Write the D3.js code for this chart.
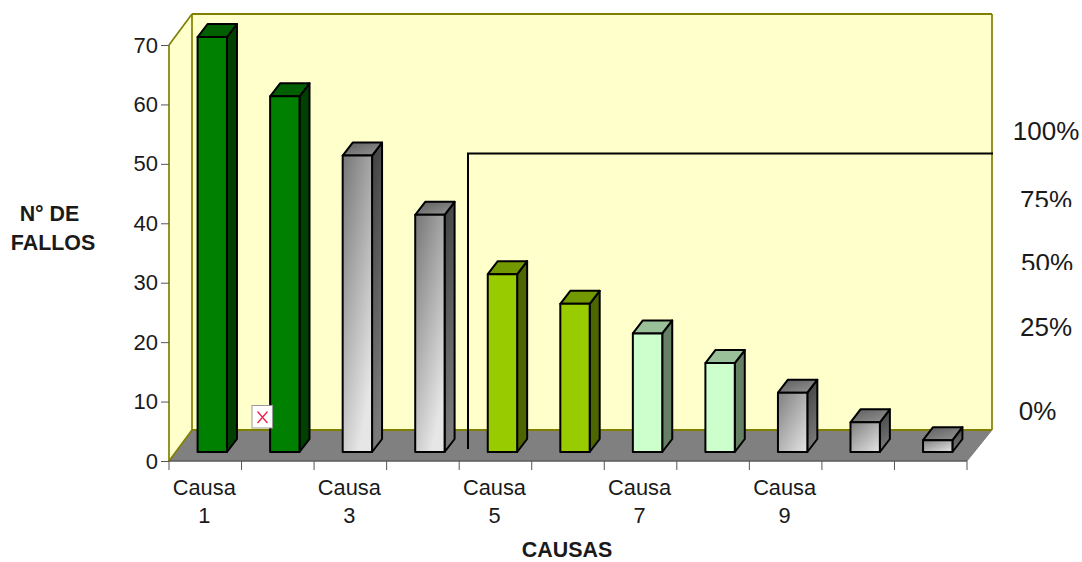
<!DOCTYPE html>
<html>
<head>
<meta charset="utf-8">
<script src="https://cdn.jsdelivr.net/npm/d3@7/dist/d3.min.js"></script>
<style>
html,body{margin:0;padding:0;background:#fff;}
svg{display:block;}
text{font-family:"Liberation Sans",Arial,sans-serif;fill:#1a1a1a;}
</style>
</head>
<body>
<svg id="chart" width="1082" height="562"></svg>
<script>
// Pareto data: number of failures per cause
const categories = ["Causa 1","Causa 2","Causa 3","Causa 4","Causa 5","Causa 6","Causa 7","Causa 8","Causa 9","Causa 10","Causa 11"];
const failures = [70,60,50,40,30,25,20,15,10,5,2];
const barStyles = ["green","green","steel","steel","lime","lime","mint","mint","steel","steel","steel"];
const yTicks = [0,10,20,30,40,50,60,70];
const labelledCauses = ["Causa 1","Causa 3","Causa 5","Causa 7","Causa 9"];
const percentTicks = [100,75,50,25,0];
// Cumulative step line: boundary index between causes, and percentage reached
const stepBoundary = [4,4,11];
const stepPercent = [0,100,100];

const svg = d3.select("#chart");
const W = {x0:169, x1:967, y0:461, y1:45, dx:24, dy:-31};
const x = d3.scaleBand().domain(categories).range([W.x0,W.x1]);
const y = d3.scaleLinear().domain([0,70]).range([W.y0,W.y1]);

const defs = svg.append("defs");
function gradient(id,stops,x2,y2){
  const g = defs.append("linearGradient").attr("id",id)
    .attr("x1",0).attr("y1",0).attr("x2",x2).attr("y2",y2);
  stops.forEach((c,i)=>g.append("stop").attr("offset",i/(stops.length-1)).attr("stop-color",c));
}
gradient("steelFront",["#767676","#e6e6e6"],0.55,1);
gradient("steelFrontWide",["#808080","#e0e0e0"],0.9,1);
gradient("steelSide",["#404040","#7a7a7a"],0.2,1);
gradient("steelTop",["#5c5c5c","#969696"],1,1);

const palette = {
  green:{front:"#008000",side:"#004000",top:"#006000"},
  lime:{front:"#99cc00",side:"#4d6600",top:"#739900"},
  mint:{front:"#ccffcc",side:"#668066",top:"#99c099"},
  steel:{front:"url(#steelFront)",side:"url(#steelSide)",top:"url(#steelTop)"}
};

// Chart box: back wall, left wall, floor
const pts = a => a.map(p=>p.join(",")).join(" ");
const bx0=W.x0+W.dx-1, bx1=W.x1+W.dx+1, by1=W.y1+W.dy, by0=W.y0+W.dy;
svg.append("polygon").attr("points",pts([[bx0,by1],[bx1,by1],[bx1,by0],[bx0,by0]])).attr("fill","#ffffcc");
svg.append("polygon").attr("points",pts([[W.x0,W.y1],[bx0,by1],[bx0,by0],[W.x0,W.y0]])).attr("fill","#ffffcc");
svg.append("polygon").attr("points",pts([[W.x0,W.y0],[bx0,by0],[bx1,by0],[W.x1,W.y0]])).attr("fill","#808080");
const olive = "#808000";
const edge = (a,b,w)=>svg.append("line").attr("x1",a[0]).attr("y1",a[1]).attr("x2",b[0]).attr("y2",b[1])
  .attr("stroke",olive).attr("stroke-width",w);
edge([W.x0,W.y1],[W.x0,W.y0],1.7);
edge([W.x0,W.y1],[bx0,by1],1.7);
edge([bx0,by1],[bx1,by1],1.8);
edge([bx0,by1],[bx0,by0],1.7);
edge([bx1,by1],[bx1,by0],1.7);
edge([bx0,by0],[bx1,by0],2);
edge([W.x0,W.y0],[bx0,by0],1.7);

// Right-hand floor edge
svg.append("line").attr("x1",bx1).attr("y1",by0).attr("x2",W.x1).attr("y2",W.y0)
  .attr("stroke","#808080").attr("stroke-width",1);

// Axes
const yAxis = svg.append("g").attr("transform",`translate(${W.x0},0)`)
  .call(d3.axisLeft(y).tickValues(yTicks).tickSize(8).tickPadding(3));
yAxis.select(".domain").remove();
yAxis.selectAll("line").attr("stroke","#555");
yAxis.selectAll("text").attr("font-size",22).attr("font-family",'"Liberation Sans",Arial,sans-serif');

const xAxis = svg.append("g").attr("transform",`translate(0,${W.y0})`)
  .call(d3.axisBottom(x).tickSize(0).tickFormat(""));
xAxis.select(".domain").attr("stroke","#5a5a5a").attr("stroke-width",1.5).attr("d",`M${W.x0},0H${W.x1}`);
const boundaries = d3.range(categories.length+1).map(i=>i===categories.length?x.range()[1]:x(categories[i]));
xAxis.selectAll(".bound").data(boundaries).enter().append("line").attr("class","bound")
  .attr("x1",d=>d).attr("x2",d=>d).attr("y1",0).attr("y2",9).attr("stroke","#555");

const causeLabels = svg.append("g").selectAll("text").data(labelledCauses).enter().append("text")
  .attr("text-anchor","middle").attr("font-size",21.8);
causeLabels.each(function(d){
  const [word,num] = d.split(" ");
  const cx = x(d)+x.bandwidth()/2-1;
  const t = d3.select(this);
  t.append("tspan").attr("x",cx).attr("y",495).text(word);
  t.append("tspan").attr("x",cx).attr("y",523).text(num);
});

// 3D bars
const barW = x.bandwidth()*0.405, depthX = 10, depthY = -13;
const barShift = 7, floorY = 452;
const barY = d3.scaleLinear().domain([0,70]).range([floorY,37]);
const bars = svg.append("g").selectAll("g").data(failures).enter().append("g");
bars.each(function(v,i){
  const s = palette[barStyles[i]];
  const l = x(categories[i])+x.bandwidth()/2+barShift-barW/2, r = l+barW;
  const t = barY(v), b = barY(0);
  const g = d3.select(this).attr("stroke","#000").attr("stroke-width",2).attr("stroke-linejoin","round");
  g.append("polygon").attr("points",pts([[r,t],[r+depthX,t+depthY],[r+depthX,b+depthY],[r,b]])).attr("fill",s.side);
  g.append("polygon").attr("points",pts([[l,t],[l+depthX,t+depthY],[r+depthX,t+depthY],[r,t]])).attr("fill",s.top);
  g.append("rect").attr("x",l).attr("y",t).attr("width",barW).attr("height",b-t)
    .attr("fill",s.front==="url(#steelFront)"&&v<=10?"url(#steelFrontWide)":s.front);
});

// Cumulative step line
const lineX = d3.scaleLinear().domain([4,11]).range([468,993]);
const lineY = d3.scaleLinear().domain([0,100]).range([449,153.5]);
svg.append("path").attr("fill","none").attr("stroke","#000").attr("stroke-width",2)
  .attr("d",d3.line().x(d=>lineX(d[0])).y(d=>lineY(d[1]))(stepBoundary.map((b,i)=>[b,stepPercent[i]])));

// Percentage labels on the right, two of them cut along their lower edge
const pctY = d3.scaleLinear().domain([0,25,50,75,100]).range([420,336,272,209,140]);
const pctCx = d3.scaleOrdinal().domain(percentTicks).range([1046,1046,1047,1046,1037.5]);
defs.append("clipPath").attr("id","cut75").append("rect").attr("x",1000).attr("y",170).attr("width",82).attr("height",37);
defs.append("clipPath").attr("id","cut50").append("rect").attr("x",1000).attr("y",235).attr("width",82).attr("height",35);
svg.append("g").selectAll("text").data(percentTicks).enter().append("text")
  .attr("x",d=>pctCx(d)).attr("y",d=>pctY(d)).attr("text-anchor","middle").attr("font-size",26)
  .attr("clip-path",d=>d===75?"url(#cut75)":d===50?"url(#cut50)":null)
  .text(d=>d+"%");

// Axis titles
const title = (s,cx,yy)=>svg.append("text").attr("x",cx).attr("y",yy).attr("text-anchor","middle")
  .attr("font-size",21.4).attr("font-weight","bold").attr("fill","#111").text(s);
title("N° DE",49.5,220.5);
title("FALLOS",53,250);
title("CAUSAS",567,557.4);

// Broken-image placeholder
const icon = svg.append("g");
icon.append("rect").attr("x",252).attr("y",405.5).attr("width",20.5).attr("height",22.5)
  .attr("fill","#fff").attr("stroke","#999").attr("stroke-width",1);
icon.append("path").attr("d","M257.5,411.5L267.5,423M267.5,411.5L257.5,423").attr("stroke","#f0204a").attr("stroke-width",1.3).attr("fill","none");
</script>
</body>
</html>
